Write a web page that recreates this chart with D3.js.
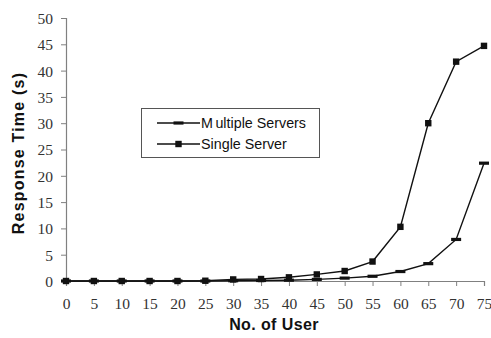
<!DOCTYPE html>
<html>
<head>
<meta charset="utf-8">
<script src="https://cdn.jsdelivr.net/npm/d3@7/dist/d3.min.js"></script>
<style>
  body { margin: 0; background: #fff; }
</style>
</head>
<body>
<div id="chart"></div>
<script>
const users = [0, 5, 10, 15, 20, 25, 30, 35, 40, 45, 50, 55, 60, 65, 70, 75];
const multipleServers = [0, 0, 0, 0, 0, 0, 0.05, 0.1, 0.15, 0.3, 0.55, 0.9, 1.8, 3.3, 7.9, 22.4];
const singleServer = [0, 0, 0, 0, 0, 0.05, 0.3, 0.38, 0.7, 1.25, 1.9, 3.7, 10.3, 30.0, 41.7, 44.7];
const yTicks = [0, 5, 10, 15, 20, 25, 30, 35, 40, 45, 50];

const width = 491, height = 338;
const margin = { top: 18, right: 6, bottom: 57, left: 66 };

const svg = d3.select('#chart')
    .append('svg')
    .attr('width', width)
    .attr('height', height);

const x = d3.scaleLinear()
    .domain([0, 75])
    .range([margin.left, width - margin.right - 1]);

const y = d3.scaleLinear()
    .domain([0, 50])
    .range([height - margin.bottom, margin.top]);

// axes
const xAxis = svg.append('g')
    .attr('transform', `translate(0,${y(0)})`)
    .call(d3.axisBottom(x).tickValues(users).tickSize(5));

const yAxis = svg.append('g')
    .attr('transform', `translate(${x(0)},0)`)
    .call(d3.axisLeft(y).tickValues(yTicks).tickSize(5).tickPadding(8));

[xAxis, yAxis].forEach(a => {
    a.select('.domain').attr('stroke', '#808080').attr('stroke-width', 1.2);
    a.selectAll('.tick line').attr('stroke', '#808080');
    a.selectAll('.tick text')
        .style('font-family', '"Liberation Serif", "Times New Roman", serif')
        .attr('font-size', 15.5)
        .attr('fill', '#333');
});
xAxis.selectAll('.tick text').attr('y', 28).attr('dy', 0);
yAxis.selectAll('.tick text').attr('dy', '0.35em');

// axis titles
svg.append('text')
    .attr('x', 274)
    .attr('y', 330)
    .attr('text-anchor', 'middle')
    .attr('font-family', '"Liberation Sans", Arial, sans-serif')
    .attr('font-weight', 'bold')
    .attr('font-size', 16)
    .attr('letter-spacing', 0.4)
    .attr('fill', '#111')
    .text('No. of User');

svg.append('text')
    .attr('transform', `translate(24,153) rotate(-90)`)
    .attr('text-anchor', 'middle')
    .attr('font-family', '"Liberation Sans", Arial, sans-serif')
    .attr('font-weight', 'bold')
    .attr('font-size', 16)
    .attr('letter-spacing', 1.2)
    .attr('fill', '#111')
    .text('Response Time  (s)');

const line = d3.line()
    .x((d, i) => x(users[i]))
    .y(d => y(d));

const series = [
    { name: 'Multiple Servers', values: multipleServers, marker: 'dash' },
    { name: 'Single Server', values: singleServer, marker: 'square' }
];

function drawMarker(g, type, cx, cy) {
    if (type === 'dash') {
        g.append('rect')
            .attr('x', cx - 5).attr('y', cy - 1.6)
            .attr('width', 10).attr('height', 3.2)
            .attr('fill', '#111');
    } else {
        g.append('rect')
            .attr('x', cx - 3.2).attr('y', cy - 3.2)
            .attr('width', 6.4).attr('height', 6.4)
            .attr('fill', '#111');
    }
}

series.forEach(s => {
    svg.append('path')
        .datum(s.values)
        .attr('d', line)
        .attr('fill', 'none')
        .attr('stroke', '#111')
        .attr('stroke-width', 1.4);
    const g = svg.append('g');
    s.values.forEach((v, i) => drawMarker(g, s.marker, x(users[i]), y(v)));
});

// legend
const legend = svg.append('g');
legend.append('rect')
    .attr('x', 141.5).attr('y', 108.5)
    .attr('width', 178).attr('height', 49)
    .attr('fill', '#fff')
    .attr('stroke', '#555')
    .attr('stroke-width', 1);

series.forEach((s, i) => {
    const ly = 123 + i * 21;
    legend.append('line')
        .attr('x1', 157).attr('x2', 200)
        .attr('y1', ly).attr('y2', ly)
        .attr('stroke', '#111')
        .attr('stroke-width', 1.4);
    drawMarker(legend, s.marker, 178.5, ly);
    const t = legend.append('text')
        .attr('x', 201)
        .attr('y', ly)
        .attr('dy', '0.35em')
        .attr('font-family', '"Liberation Sans", Arial, sans-serif')
        .attr('font-size', 14.3)
        .attr('fill', '#111');
    t.append('tspan').text(s.name.charAt(0));
    t.append('tspan').attr('dx', s.marker === 'dash' ? 2.5 : 0).text(s.name.slice(1));
});
</script>
</body>
</html>
